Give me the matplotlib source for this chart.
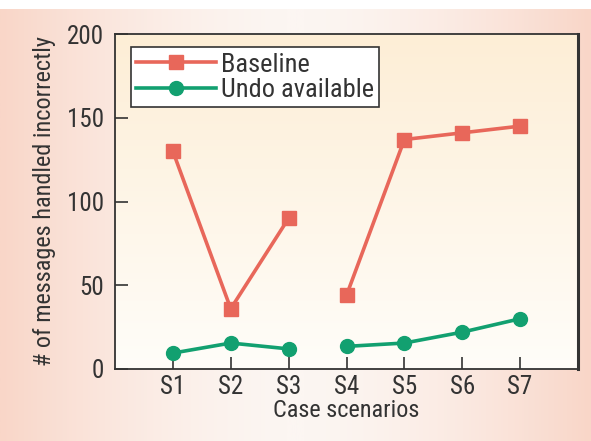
import numpy as np
import matplotlib
matplotlib.use("Agg")
from matplotlib import pyplot as plt
from matplotlib.colors import LinearSegmentedColormap

scenarios = ["S1", "S2", "S3", "S4", "S5", "S6", "S7"]
baseline = [130, 36, 90, 44, 137, 141, 145]
undo = [9.5, 15.5, 12, 13.5, 15.5, 22, 30]
groups = [(0, 3), (3, 7)]  # S3 and S4 are not joined

red = "#e8675a"
green = "#12a070"
ink = "#333333"

plt.rcParams["font.family"] = ["Roboto Condensed", "Liberation Sans", "DejaVu Sans"]

fig = plt.figure(figsize=(5.91, 4.41), dpi=100)
fig.patch.set_facecolor("white")

# pink background, lighter towards the middle
bg = fig.add_axes([0, 0, 1, 432 / 441], zorder=-10)
xs = np.linspace(-1, 1, 300)
row = np.abs(xs) ** 1.6
bg_cmap = LinearSegmentedColormap.from_list("bg", ["#fcf6f2", "#f9d6c8"])
bg.imshow(row[np.newaxis, :], aspect="auto", cmap=bg_cmap, extent=(0, 1, 0, 1))
bg.set_axis_off()

ax = fig.add_axes([115 / 591, 1 - 369 / 441, 463 / 591, 335 / 441])
ax.set_xlim(0, 8)
ax.set_ylim(0, 200)

# plot area, pale orange at top to almost white at bottom
pa_cmap = LinearSegmentedColormap.from_list("pa", ["#fffdf9", "#fdeed6"])
ax.imshow(np.linspace(0, 1, 200)[:, np.newaxis], aspect="auto", cmap=pa_cmap,
          origin="lower", extent=(0, 8, 0, 200), zorder=0)

x = np.arange(1, len(scenarios) + 1)
for k, (a, b) in enumerate(groups):
    ax.plot(x[a:b], baseline[a:b], color=red, lw=2.6, marker="s", ms=10,
            label="Baseline" if k == 0 else None, zorder=3)
    ax.plot(x[a:b], undo[a:b], color=green, lw=2.6, marker="o", ms=10,
            label="Undo available" if k == 0 else None, zorder=3)

ax.set_xticks(x)
ax.set_xticklabels(scenarios)
ax.set_yticks([0, 50, 100, 150, 200])
ax.tick_params(direction="in", length=9, width=1.2, color=ink,
               labelsize=18, labelcolor=ink, pad=4)
ax.tick_params(axis="y", pad=8)
for s in ax.spines.values():
    s.set_color(ink)
    s.set_linewidth(1.3)
ax.spines["right"].set_linewidth(2.2)

ax.set_xlabel("Case scenarios", fontsize=17.5, color=ink, labelpad=0)
ax.set_ylabel("# of messages handled incorrectly", fontsize=17.5,
              color=ink, labelpad=8)

leg = ax.legend(loc="upper left", bbox_to_anchor=(0.035, 0.96), fontsize=19,
                frameon=True, fancybox=False, handlelength=3.0,
                handletextpad=0.2, borderpad=0.2, labelspacing=0.05,
                borderaxespad=0)
leg.get_frame().set_edgecolor(ink)
leg.get_frame().set_linewidth(1.2)
leg.get_frame().set_facecolor("white")
leg.get_frame().set_alpha(1)
for t in leg.get_texts():
    t.set_color(ink)

fig.savefig("out.png", dpi=100)
